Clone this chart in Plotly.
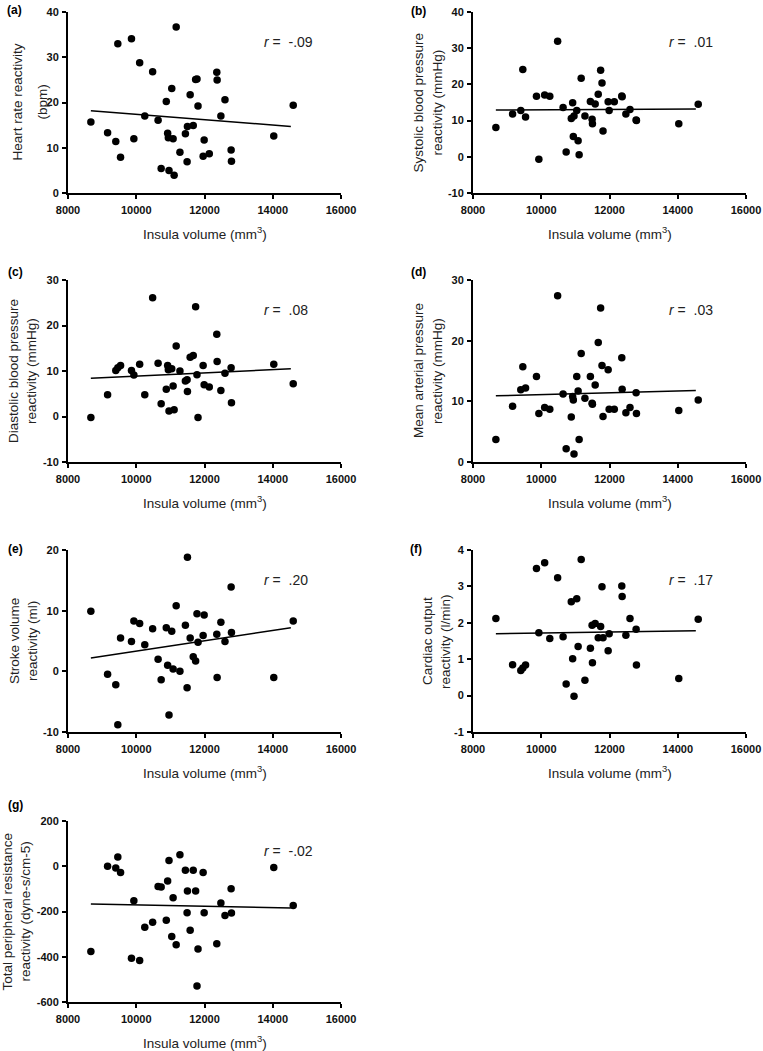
import plotly.graph_objects as go

W, H = 763, 1051

# ---------------- data ----------------
insula_volume = [8670, 9160, 9400, 9460, 9540, 9860, 9930, 10100, 10250, 10480,
                 10640, 10730, 10880, 10920, 10940, 10960, 11040, 11080, 11110, 11170,
                 11280, 11440, 11490, 11500, 11580, 11670, 11740, 11780, 11810, 11960,
                 11990, 12140, 12360, 12370, 12480, 12600, 12780, 12790, 14030, 14600]

heart_rate = [15.7, 13.3, 11.4, 33.0, 7.9, 34.1, 12.0, 28.8, 17.0, 26.8,
              16.1, 5.4, 20.2, 13.2, 12.2, 5.0, 23.1, 12.0, 3.9, 36.7,
              9.0, 13.1, 6.9, 14.7, 21.7, 14.9, 25.1, 25.2, 19.2, 8.1,
              11.7, 8.7, 26.7, 25.0, 17.0, 20.6, 9.5, 7.0, 12.6, 19.4]

systolic = [8.1, 11.8, 12.8, 24.1, 11.0, 16.7, -0.7, 17.1, 16.7, 31.9,
            13.6, 1.3, 10.6, 14.9, 5.6, 11.3, 12.8, 4.4, 0.6, 21.7,
            11.3, 15.3, 10.4, 9.1, 14.6, 17.3, 23.9, 20.4, 7.1, 15.2,
            12.8, 15.2, 16.8, 16.6, 11.8, 13.1, 10.2, 10.0, 9.1, 14.5]

diastolic = [-0.2, 4.8, 10.1, 10.7, 11.2, 10.1, 9.1, 11.5, 4.8, 26.1,
             11.7, 2.8, 6.0, 11.2, 10.3, 1.2, 10.5, 6.7, 1.5, 15.5,
             10.0, 7.8, 8.1, 5.5, 13.0, 13.4, 24.1, 9.2, -0.2, 11.2,
             7.0, 6.5, 18.1, 12.1, 5.7, 9.5, 10.7, 3.0, 11.5, 7.2]

mean_arterial = [3.7, 9.2, 11.9, 15.7, 12.2, 14.1, 8.0, 9.0, 8.7, 27.4,
                 11.2, 2.2, 7.4, 10.8, 10.2, 1.3, 14.1, 11.7, 3.7, 17.9,
                 10.5, 14.1, 9.7, 9.5, 12.7, 19.7, 25.4, 15.9, 7.5, 15.2,
                 8.7, 8.7, 17.2, 12.0, 8.1, 9.0, 11.4, 8.0, 8.5, 10.2]

stroke_volume = [9.9, -0.5, -2.2, -8.8, 5.5, 4.9, 8.3, 7.9, 4.4, 7.0,
                 2.0, -1.4, 7.2, 1.0, None, -7.2, 6.6, 0.4, None, 10.8,
                 0.0, 7.6, -2.7, 18.8, 5.5, 2.4, 1.7, 9.5, 4.8, 5.9,
                 9.3, None, 6.1, -1.0, 8.1, 4.9, 13.9, 6.4, -1.0, 8.3]

cardiac_output = [2.12, 0.85, 0.69, 0.76, 0.84, 3.49, 1.73, 3.65, 1.57, 3.24,
                  1.62, 0.32, 2.58, 1.01, None, -0.02, 2.66, 1.35, None, 3.74,
                  0.42, 1.30, 1.93, 0.90, 1.98, 1.59, 1.90, 2.99, 1.59, 1.23,
                  1.70, None, 3.01, 2.72, 1.66, 2.12, 1.82, 0.84, 0.47, 2.10]

peripheral_resistance = [-377, 0, -8, 41, -28, -407, -152, -417, -270, -248,
                         -89, -92, -239, -65, None, 25, -310, -139, None, -347,
                         51, -18, -205, -109, -283, -18, -109, -529, -366, -28,
                         -205, None, -342, None, -162, -218, -100, -207, -6, -173]

fit_x = [8670, 14530]
fit_start = [18.2, 12.9, 8.4, 10.9, 2.2, 1.70, -167]
fit_end = [14.7, 13.2, 10.5, 11.8, 7.2, 1.78, -184]

r_values = ["-.09", ".01", ".08", ".03", ".20", ".17", "-.02"]
panel_letters = ["(a)", "(b)", "(c)", "(d)", "(e)", "(f)", "(g)"]
y_title_lines = [
    ["Heart rate reactivity", "(bpm)"],
    ["Systolic blood pressure", "reactivity (mmHg)"],
    ["Diastolic blood pressure", "reactivity (mmHg)"],
    ["Mean arterial pressure", "reactivity (mmHg)"],
    ["Stroke volume", "reactivity (ml)"],
    ["Cardiac output", "reactivity (l/min)"],
    ["Total peripheral resistance", "reactivity (dyne-s/cm-5)"],
]
x_title = "Insula volume (mm<sup>3</sup>)"
x_ticks = [8000, 10000, 12000, 14000, 16000]
y_ranges = [(0, 40, 10), (-10, 40, 10), (-10, 30, 10), (0, 30, 10),
            (-10, 20, 10), (-1, 4, 1), (-600, 200, 200)]
series = [heart_rate, systolic, diastolic, mean_arterial,
          stroke_volume, cardiac_output, peripheral_resistance]

# ---------------- layout geometry (pixels) ----------------
col_left = [68, 473]
col_right = [341, 746]
row_top = [12, 280, 550, 821]
row_bot = [193, 462, 732, 1002]
ytitle_x = [(17, 42), (418, 437), (14, 32), (419, 438), (14, 32), (427, 445), (7, 25)]
letter_pos = [(14, 10), (418, 11), (15, 272), (418, 272), (15, 549), (416, 549), (15, 805)]

FONT = "Liberation Sans, Arial, sans-serif"


def fx(p):
    return p / W


def fy(p):
    return 1 - p / H


fig = go.Figure()
annotations = []
layout_axes = {}

for i, ys in enumerate(series):
    row, col = divmod(i, 2)
    n = i + 1
    xa = "x" if n == 1 else f"x{n}"
    ya = "y" if n == 1 else f"y{n}"
    xkey = "xaxis" if n == 1 else f"xaxis{n}"
    ykey = "yaxis" if n == 1 else f"yaxis{n}"
    L, R = col_left[col], col_right[col]
    T, B = row_top[row], row_bot[row]

    fig.add_trace(go.Scatter(
        x=insula_volume, y=ys, mode="markers", xaxis=xa, yaxis=ya,
        marker=dict(size=7.5, color="black"), cliponaxis=False, showlegend=False,
        hoverinfo="skip"))
    fig.add_trace(go.Scatter(
        x=fit_x, y=[fit_start[i], fit_end[i]], mode="lines", xaxis=xa, yaxis=ya,
        line=dict(color="black", width=1.5), showlegend=False, hoverinfo="skip"))

    y0, y1, dy = y_ranges[i]
    yticks = list(range(y0, y1 + 1, dy))
    common = dict(showline=True, linewidth=2, linecolor="black", ticks="outside",
                  ticklen=4, tickwidth=2, tickcolor="black", showgrid=False,
                  zeroline=False, automargin=False,
                  tickfont=dict(family=FONT, size=11, color="#111", weight="bold"))
    layout_axes[xkey] = dict(domain=[fx(L), fx(R)], range=[8000, 16000],
                             tickvals=x_ticks, ticktext=[str(v) for v in x_ticks],
                             anchor=ya, ticklabelstandoff=2, **common)
    layout_axes[ykey] = dict(domain=[fy(B), fy(T)], range=[y0, y1],
                             tickvals=yticks, ticktext=[str(v) for v in yticks],
                             anchor=xa, ticklabelstandoff=1, **common)

    for line_text, xp in zip(y_title_lines[i], ytitle_x[i]):
        annotations.append(dict(
            text=line_text, xref="paper", yref="paper", x=fx(xp), y=fy((T + B) / 2),
            xanchor="center", yanchor="middle", textangle=-90, showarrow=False,
            font=dict(family=FONT, size=13.5, color="#222")))
    annotations.append(dict(
        text=x_title, xref="paper", yref="paper", x=fx((L + R) / 2), y=fy(B + 40),
        xanchor="center", yanchor="middle", showarrow=False,
        font=dict(family=FONT, size=13.5, color="#222")))
    annotations.append(dict(
        text=f"<i>r</i> =  {r_values[i]}", xref="paper", yref="paper",
        x=fx(L + 194), y=fy(T + 30), xanchor="left", yanchor="middle",
        showarrow=False, font=dict(family=FONT, size=14, color="#222")))
    lx, ly = letter_pos[i]
    annotations.append(dict(
        text=f"<b>{panel_letters[i]}</b>", xref="paper", yref="paper",
        x=fx(lx), y=fy(ly), xanchor="center", yanchor="middle", showarrow=False,
        font=dict(family=FONT, size=12, color="black")))

fig.update_layout(
    template="none",
    width=W, height=H, margin=dict(l=0, r=0, t=0, b=0, pad=0, autoexpand=False),
    paper_bgcolor="white", plot_bgcolor="white",
    annotations=annotations, showlegend=False, **layout_axes)

fig.write_html("out.html", config={"displayModeBar": False},
               post_script="document.body.style.margin='0';")
